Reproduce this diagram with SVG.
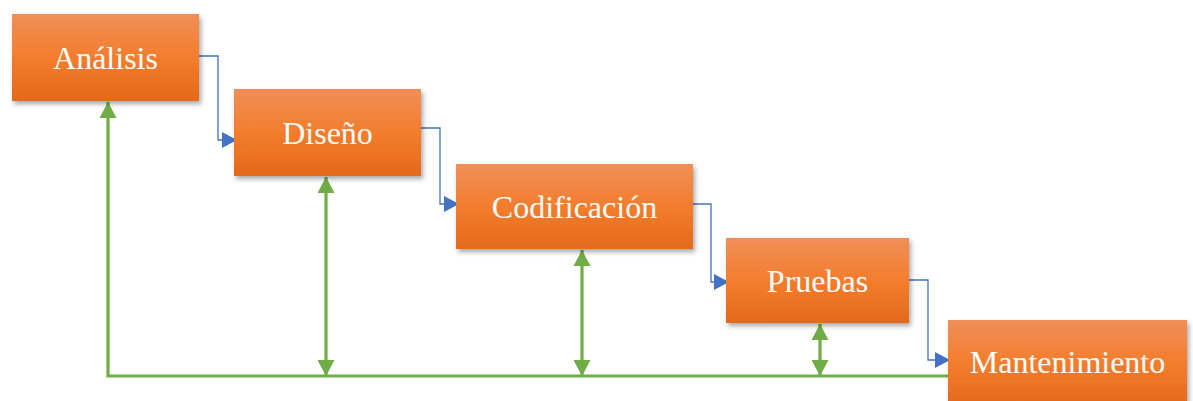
<svg xmlns="http://www.w3.org/2000/svg" width="1193" height="401" viewBox="0 0 1193 401">
  <defs>
    <linearGradient id="boxFill" x1="0" y1="0" x2="0" y2="1">
      <stop offset="0" stop-color="#F08F58"/>
      <stop offset="0.5" stop-color="#F37D2D"/>
      <stop offset="1" stop-color="#E3691A"/>
    </linearGradient>
    <filter id="shadow" x="-10%" y="-10%" width="125%" height="135%">
      <feDropShadow dx="2" dy="3" stdDeviation="2.5" flood-color="#000" flood-opacity="0.35"/>
    </filter>
    <marker id="blueHead" markerUnits="userSpaceOnUse" markerWidth="16" markerHeight="16" viewBox="0 0 16 16" refX="15" refY="8" orient="auto">
      <path d="M0,0 L15,8 L0,16 Z" fill="#4472C4"/>
    </marker>
    <marker id="greenHead" markerUnits="userSpaceOnUse" markerWidth="17" markerHeight="17" viewBox="0 0 17 17" refX="16" refY="8.5" orient="auto-start-reverse">
      <path d="M0,0 L16,8.5 L0,17 Z" fill="#70AD47"/>
    </marker>
    <style>
      .box { fill: url(#boxFill); filter: url(#shadow); }
      .label { font-family: "Liberation Serif", "Times New Roman", serif; font-size: 32px; fill: #FFFFFF; text-anchor: middle; }
      .flow { fill: none; stroke: #4472C4; stroke-width: 1.3; marker-end: url(#blueHead); }
      .feedback { fill: none; stroke: #70AD47; stroke-width: 3.2; }
    </style>
  </defs>

  <!-- connectors -->
  <g id="connectors">
    <!-- forward flow between phases -->
    <path class="flow" d="M199,56 H218 V140 H237"/>
    <path class="flow" d="M421,128 H440 V204 H459"/>
    <path class="flow" d="M693,204 H711 V282 H729"/>
    <path class="flow" d="M909,280 H928 V360 H950"/>
    <!-- feedback loop back to analysis -->
    <path class="feedback" d="M948,376 H108 V102" marker-end="url(#greenHead)"/>
    <line class="feedback" x1="326" y1="177" x2="326" y2="376" marker-start="url(#greenHead)" marker-end="url(#greenHead)"/>
    <line class="feedback" x1="582" y1="250" x2="582" y2="376" marker-start="url(#greenHead)" marker-end="url(#greenHead)"/>
    <line class="feedback" x1="820" y1="324" x2="820" y2="376" marker-start="url(#greenHead)" marker-end="url(#greenHead)"/>
  </g>

  <g id="analisis">
    <rect class="box" x="12" y="14" width="187" height="87"/>
    <text class="label" x="105.5" y="69">Análisis</text>
  </g>
  <g id="diseno">
    <rect class="box" x="234" y="89" width="187" height="87"/>
    <text class="label" x="327.5" y="144">Diseño</text>
  </g>
  <g id="codificacion">
    <rect class="box" x="456" y="164" width="237" height="85"/>
    <text class="label" x="574.5" y="218">Codificación</text>
  </g>
  <g id="pruebas">
    <rect class="box" x="726" y="238" width="183" height="85"/>
    <text class="label" x="817.5" y="292">Pruebas</text>
  </g>
  <g id="mantenimiento">
    <rect class="box" x="948" y="320" width="239" height="86"/>
    <text class="label" x="1067.5" y="373">Mantenimiento</text>
  </g>
</svg>
